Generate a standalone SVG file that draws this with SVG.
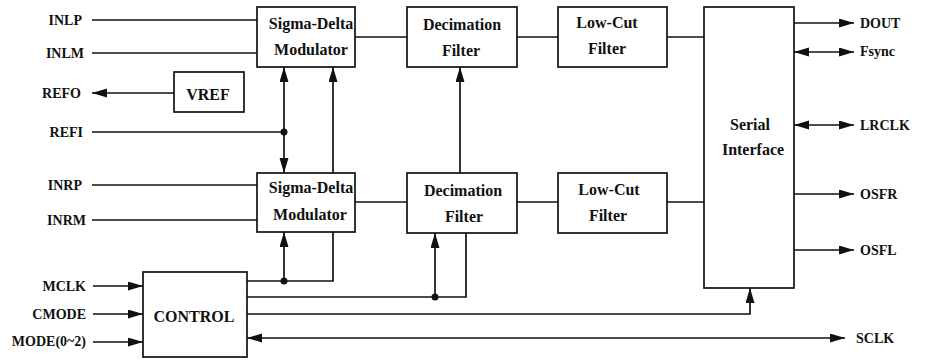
<svg xmlns="http://www.w3.org/2000/svg" width="927" height="360" viewBox="0 0 927 360">
<style>
.box{fill:#fff;stroke:#111;stroke-width:1.7}
.w{fill:none;stroke:#111;stroke-width:1.7}
.t{font-family:"Liberation Serif","Times New Roman",serif;font-weight:bold;font-size:16px;fill:#111;text-anchor:middle}
.l{font-family:"Liberation Serif","Times New Roman",serif;font-weight:bold;font-size:14px;fill:#111;text-anchor:end}
.r{font-family:"Liberation Serif","Times New Roman",serif;font-weight:bold;font-size:14px;fill:#111;text-anchor:start}
.dot{fill:#111}
</style>
<defs>
<marker id="ah" markerUnits="userSpaceOnUse" markerWidth="16" markerHeight="10" refX="15" refY="4.5" orient="auto-start-reverse">
<path d="M0,0 L15,4.5 L0,9 z" fill="#111"/>
</marker>
</defs>
<rect width="927" height="360" fill="#fff"/>
<g id="connectors">
<path class="w" d="M92,20 H257"/>
<path class="w" d="M92,53 H257"/>
<path class="w" d="M174,93 H92" marker-end="url(#ah)"/>
<path class="w" d="M92,132 H284"/>
<path class="w" d="M284,173 V67" marker-start="url(#ah)" marker-end="url(#ah)"/>
<path class="w" d="M247,281 H333 V232"/>
<path class="w" d="M333,173 V67" marker-end="url(#ah)"/>
<path class="w" d="M284,281 V232" marker-end="url(#ah)"/>
<path class="w" d="M92,185 H257"/>
<path class="w" d="M92,220 H257"/>
<path class="w" d="M93,286 H143" marker-end="url(#ah)"/>
<path class="w" d="M93,314 H143" marker-end="url(#ah)"/>
<path class="w" d="M93,342 H143" marker-end="url(#ah)"/>
<path class="w" d="M355,37 H407"/>
<path class="w" d="M517,37 H558"/>
<path class="w" d="M667,37 H704"/>
<path class="w" d="M355,202 H407"/>
<path class="w" d="M517,202 H558"/>
<path class="w" d="M667,202 H704"/>
<path class="w" d="M460,173 V67" marker-end="url(#ah)"/>
<path class="w" d="M247,297 H466 V233"/>
<path class="w" d="M435,297 V233" marker-end="url(#ah)"/>
<path class="w" d="M247,314 H750 V288" marker-end="url(#ah)"/>
<path class="w" d="M247,338 H845" marker-start="url(#ah)" marker-end="url(#ah)"/>
<path class="w" d="M794,23 H854" marker-end="url(#ah)"/>
<path class="w" d="M794,52 H854" marker-start="url(#ah)" marker-end="url(#ah)"/>
<path class="w" d="M794,125 H854" marker-start="url(#ah)" marker-end="url(#ah)"/>
<path class="w" d="M794,194 H854" marker-end="url(#ah)"/>
<path class="w" d="M794,250 H854" marker-end="url(#ah)"/>
<circle class="dot" cx="284" cy="132" r="3.5"/>
<circle class="dot" cx="284" cy="281" r="3.5"/>
<circle class="dot" cx="435" cy="297" r="3.5"/>
</g>
<g id="labels">
<text class="l" x="82" y="25">INLP</text>
<text class="l" x="84" y="58">INLM</text>
<text class="l" x="81" y="98">REFO</text>
<text class="l" x="83" y="137">REFI</text>
<text class="l" x="82" y="190">INRP</text>
<text class="l" x="86" y="225">INRM</text>
<text class="l" x="86" y="291">MCLK</text>
<text class="l" x="86" y="319">CMODE</text>
<text class="l" x="86" y="346">MODE(0~2)</text>
<text class="r" x="860" y="28">DOUT</text>
<text class="r" x="860" y="56">Fsync</text>
<text class="r" x="860" y="130">LRCLK</text>
<text class="r" x="860" y="199">OSFR</text>
<text class="r" x="860" y="255">OSFL</text>
<text class="r" x="856" y="343">SCLK</text>
</g>
<g id="sdm-l">
<rect class="box" x="257" y="7" width="98" height="60"/>
<text class="t" x="311" y="29">Sigma-Delta</text>
<text class="t" x="311" y="55">Modulator</text>
</g>
<g id="vref">
<rect class="box" x="174" y="72" width="70" height="40"/>
<text class="t" x="208" y="100">VREF</text>
</g>
<g id="sdm-r">
<rect class="box" x="257" y="173" width="98" height="59"/>
<text class="t" x="311" y="193">Sigma-Delta</text>
<text class="t" x="310" y="220">Modulator</text>
</g>
<g id="dec-l">
<rect class="box" x="407" y="7" width="110" height="60"/>
<text class="t" x="462" y="30">Decimation</text>
<text class="t" x="461" y="56">Filter</text>
</g>
<g id="dec-r">
<rect class="box" x="407" y="173" width="110" height="60"/>
<text class="t" x="463" y="196">Decimation</text>
<text class="t" x="464" y="222">Filter</text>
</g>
<g id="lcf-l">
<rect class="box" x="558" y="7" width="109" height="60"/>
<text class="t" x="607" y="28">Low-Cut</text>
<text class="t" x="607" y="54">Filter</text>
</g>
<g id="lcf-r">
<rect class="box" x="558" y="173" width="109" height="60"/>
<text class="t" x="609" y="195">Low-Cut</text>
<text class="t" x="608" y="221">Filter</text>
</g>
<g id="serial">
<rect class="box" x="704" y="7" width="90" height="281"/>
<text class="t" x="750" y="130">Serial</text>
<text class="t" x="753" y="155">Interface</text>
</g>
<g id="control">
<rect class="box" x="143" y="272" width="104" height="85"/>
<text class="t" x="194" y="322">CONTROL</text>
</g>
</svg>
